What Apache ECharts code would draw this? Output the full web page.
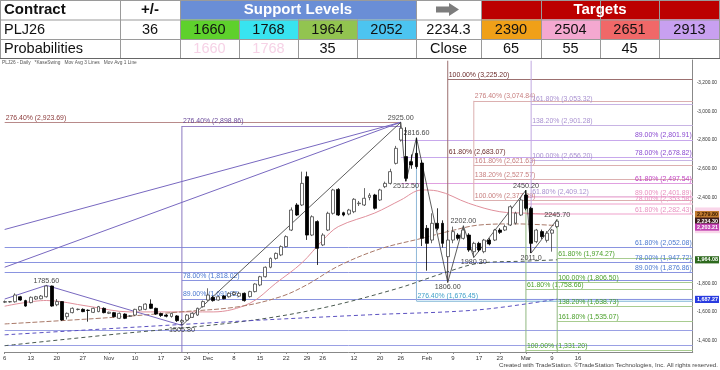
<!DOCTYPE html>
<html><head><meta charset="utf-8">
<script src="https://cdn.jsdelivr.net/npm/echarts@6/dist/echarts.min.js"></script>
<style>html,body{margin:0;padding:0;background:#fff}#c{width:720px;height:370px}</style>
</head><body><div id="c"></div>
<script>
// ---------- DATA ----------
const months = [
  ['Oct',[6,7,8,9,10,13,14,15,16,17,20,21,22,23,24,27,28,29,30,31]],
  ['Nov',[3,4,5,6,7,10,11,12,13,14,17,18,19,20,21,24,25,26,28]],
  ['Dec',[1,2,3,4,5,8,9,10,11,12,15,16,17,18,19,22,23,24,26,29,30,31]],
  ['Jan',[2,5,6,7,8,9,12,13,14,15,16,20,21,22,23,26,27,28,29,30]],
  ['Feb',[2,3,4,5,6,9,10,11,12,13,17,18,19,20,23,24,25,26,27]],
  ['Mar',[2,3,4,5,6,9,10,11,12,13,16,17,18,19,20,23,24,25,26,27,30,31]],
  ['Apr',[1,2,6,7,8,9,10,13,14,15,16]]
];
const categories = [];
months.forEach(m => m[1].forEach(d => categories.push(m[0] + ' ' + d)));
const tickDates = ['Oct 6','Oct 13','Oct 20','Oct 27','Nov 3','Nov 10','Nov 17','Nov 24','Dec 1','Dec 8','Dec 15','Dec 22','Dec 29','Jan 2','Jan 12','Jan 20','Jan 26','Feb 2','Feb 9','Feb 17','Feb 23','Mar 2','Mar 9','Mar 16'];
const tickText  = ['6','13','20','27','Nov','10','17','24','Dec','8','15','22','29','26','12','20','26','Feb','9','17','23','Mar','9','16'];

const opens = [1668,1670,1671,1706,1679,1665,1690,1692,1706,1781,1650,1672,1567,1595,1617,1618,1612,1597,1602,1625,
1590,1595,1555,1585,1570,1578,1613,1618,1655,1625,1588,1578,1568,1572,1530,1543,1562,1578,1637,1683,
1702,1683,1711,1706,1722,1710,1730,1707,1742,1788,1846,1912,1974,1998,2056,2172,2347,2347,2545,2137,
2231,2068,2172,2289,2456,2293,2284,2300,2356,2347,2400,2417,2382,2475,2498,2638,2801,2685,2650,2708,
2640,2184,2102,2219,2219,1986,2102,2137,2114,2137,2021,2079,2021,2102,2102,2172,2172,2207,2220,2277,
2417,2324,2091,2161,2100,2150,2196];
const closes = [1672,1672,1718,1683,1641,1702,1706,1711,1781,1641,1672,1544,1590,1625,1619,1602,1610,1625,1637,1595,
1598,1567,1590,1555,1572,1618,1637,1655,1625,1585,1575,1570,1590,1539,1540,1578,1590,1625,1672,1718,
1679,1706,1692,1730,1735,1730,1679,1742,1795,1846,1912,1974,2009,2056,2126,2312,2277,2498,2137,2265,
2044,2137,2289,2452,2277,2277,2312,2387,2360,2394,2415,2324,2452,2498,2580,2743,2883,2533,2627,2615,
2114,2079,2219,2184,2079,2102,2161,2114,2172,2033,2079,2033,2102,2075,2172,2156,2196,2335,2290,2382,
2324,2079,2172,2126,2150,2172,2234.3];
const lows = [1662,1665,1665,1678,1636,1660,1685,1688,1700,1636,1640,1538,1548,1590,1610,1598,1532,1592,1598,1590,
1585,1562,1550,1550,1565,1572,1608,1612,1620,1580,1565,1562,1560,1530,1505.8,1538,1558,1572,1630,1678,
1672,1678,1688,1700,1712,1705,1672,1700,1736,1780,1840,1905,1965,1990,2050,2165,2270,2340,2103,2130,
1928,2060,2165,2280,2270,2268,2275,2290,2340,2340,2380,2315,2375,2465,2490,2630,2790,2512.5,2600,2600,
2060,1888,2080,2170,2050,1806,2080,2100,2105,2020,1980.3,2020,2010,2065,2095,2145,2165,2200,2210,2270,
2310,2011,2080,2110,2085,2021,2185];
const highs = [1680,1676,1730,1712,1685,1708,1712,1718,1785.6,1784,1690,1675,1596,1632,1624,1625,1618,1630,1642,1632,
1602,1600,1596,1590,1578,1622,1642,1660,1688,1630,1595,1585,1595,1578,1550,1585,1598,1630,1680,1765,
1712,1712,1718,1738,1745,1740,1736,1748,1800,1852,1918,1980,2015,2065,2135,2330,2360,2580,2580,2275,
2240,2150,2300,2460,2465,2300,2320,2395,2375,2465,2430,2425,2460,2510,2600,2760,2925,2890,2700,2816.6,
2660,2207,2289,2324,2240,2172,2196,2150,2202,2150,2090,2090,2110,2115,2180,2185,2210,2345,2300,2400,
2450.2,2335,2180,2175,2165,2180,2245.7];

// moving averages read at sample bars
const maShortIdx = [0,8,16,24,32,40,47,52,57,61,64,71,76,80,83,89,95,100,106];
const maShortVal = [1640,1680,1640,1600,1600,1600,1660,1800,1942,2100,2196,2291,2382,2452,2445,2359,2300,2290,2280];
const maMidIdx = [0,20,34,45,53,58,64,72,80,86,91,98,106];
const maMidVal = [1516,1560,1601,1637,1707,1790,1920,2040,2114,2170,2207,2215,2203];
const maLongIdx = [0,20,45,60,75,85,91,100,106];
const maLongVal = [1364,1440,1530,1620,1760,1881,1940,1955,1964];
const maSlowIdx = [0,45,70,91,106];
const maSlowVal = [1440,1535,1580,1615,1690];

// swing points
const swingIdx = [8,34,76,77,79,85,88,90,100,101,106];
const swingVal = [1785.6,1505.8,2925,2512.5,2816.6,1806,2202,1980.3,2450.2,2011,2245.7];
const swingText = ['1785.60','1505.80','2925.00','2512.50','2816.60','1806.00','2202.00','1980.30','2450.20','2011.0','2245.70'];
const swingSide = ['top','bottom','top','bottom','top','bottom','top','bottom','top','bottom','top'];

// rays to the 2925 high
const rayStartVal = [2176,1912];

// fibonacci groups
const brownVals = [3225.20,2683.07], brownPct = ['100.00%','61.80%'];
const salmonVals = [3074.84,2621.63,2527.57,2377.89], salmonPct = ['276.40%','161.80%','138.20%','100.00%'];
const lavVals = [3053.32,2901.28,2656.20,2409.12], lavPct = ['161.80%','138.20%','100.00%','61.80%'];
const purpleVals = [2801.91,2678.82,2497.54], purplePct = ['89.00%','78.00%','61.80%'];
const pinkVals = [2401.89,2353.58,2282.43], pinkPct = ['89.00%','78.00%','61.80%'];
const blueVals = [2052.08,1947.72,1876.86], bluePct = ['61.80%','78.00%','89.00%'];
const greenAVals = [1974.27,1806.50,1638.73,1535.07], greenAPct = ['61.80%','100.00%','138.20%','161.80%'];
const greenBVals = [1758.66,1331.20], greenBPct = ['61.80%','100.00%'];
const leftVals = [2898.86,1818.02,1691.92], leftPct = ['276.40%','78.00%','89.00%'];
const topLeftVal = 2923.69, tealVal = 1676.45;
const plainLineVals = [1469,1364];

// right axis tags
const tagVals = [2279.80,2234.30,2203.21,1964.08,1687.27];
const axisLabels = [3200,3000,2800,2600,2400,1800,1600,1400];

// header table
const tblRow1 = ['PLJ26','36','1660','1768','1964','2052','2234.3','2390','2504','2651','2913'];
const tblRow2 = ['Probabilities','','1660','1768','35','','Close','65','55','45',''];

// ---------- CHART ----------
const FONT = 'Liberation Sans, Arial, sans-serif';
const nCat = categories.length;
const last = nCat - 1;
const fmt = v => v.toLocaleString('en-US',{minimumFractionDigits:2,maximumFractionDigits:2});
const lbl = (p,v) => p + ' (' + fmt(v) + ')';

function fibLines(vals, pcts, start, end, lineColor, textColor, side, lw) {
  return vals.map((v,k) => [
    {coord:[start, v], lineStyle:{color:lineColor, width:lw||1, type:'solid'},
     label:{show:!!pcts, position: side==='end'?'insideEndTop':'insideStartTop', formatter: pcts?lbl(pcts[k], v):'',
            color:textColor, fontSize:6.9, fontFamily:FONT, distance:1}},
    {coord:[end, v]}
  ]);
}
const fibData = [].concat(
  fibLines([topLeftVal],['276.40%'],0,76,'#b88a8a','#8b3a3a','start'),
  fibLines([leftVals[0]],[leftPct[0]],34,76,'#9a84c8','#6a4a9a','start'),
  fibLines(leftVals.slice(1),leftPct.slice(1),34,last,'#8a94e0','#4a78d0','start'),
  fibLines(brownVals,brownPct,85,last,'#9c7070','#6b2a2a','start'),
  fibLines(salmonVals,salmonPct,90,last,'#dcb0b0','#c88080','start'),
  fibLines(lavVals,lavPct,101,last,'#c8b4e4','#a890d0','start'),
  fibLines(purpleVals.slice(0,2),purplePct.slice(0,2),76,last,'#c8a8ec','#8a4ad0','end'),
  fibLines(purpleVals.slice(2),purplePct.slice(2),76,last,'#e0a0e0','#c040c0','end'),
  fibLines(pinkVals,pinkPct,100,last,'#f4c0dc','#e890c0','end',1.5),
  fibLines(blueVals,bluePct,0,last,'#8a94e0','#4a78d0','end'),
  fibLines(plainLineVals,null,0,last,'#9aa0e4','#4a78d0','end'),
  fibLines(greenAVals,greenAPct,106,last,'#a8cc90','#4aa02a','start'),
  fibLines(greenBVals,greenBPct,100,last,'#a8cc90','#4aa02a','start'),
  fibLines([tealVal],['276.40%'],79,last,'#a0c8e0','#40a0c8','start')
);

const pairs = (idx, val) => idx.map((i,k) => [i, val[k]]);
const seg = (data, color, width, type, smooth) => ({type:'line', data, symbol:'none', silent:true, animation:false,
  smooth: smooth||false, lineStyle:{color, width:width||1, type:type||'solid'}, z:3});

// verticals
const verticals = [
  [34, 2898.86, 1320, '#8a78c0'],
  [85, 3355, 1806, '#9c7070'],
  [90, 3074.84, 2377.89, '#dcb0b0'],
  [101, 3355, 2011, '#c0a8e0'],
  [100, 2450.2, 1320, '#90b880'],
  [106, 2245.7, 1320, '#90b880'],
  [79, 2816.6, 1676.45, '#90b8d8']
];

const series = [];
series.push({
  type:'candlestick', animation:false, barWidth:3.4, z:5,
  data: opens.map((o,i) => [o, closes[i], lows[i], highs[i]]),
  itemStyle:{color:'#ffffff', color0:'#000000', borderColor:'#444', borderColor0:'#000', borderWidth:0.8},
  markLine:{symbol:'none', silent:true, animation:false, data: fibData, z:1},
  markArea:{silent:true, animation:false, itemStyle:{color:'rgba(150,205,235,0.35)'},
    data:[[{coord:[79,tealVal]},{coord:[last,leftVals[2]]}]]}
});
verticals.forEach(v => series.push(seg([[v[0],v[1]],[v[0],v[2]]], v[3], 1)));
series.push(seg(pairs(maShortIdx,maShortVal),'#e0909c',1,'solid',0.35));
series.push(seg(pairs(maMidIdx,maMidVal),'#a87868',1,[5,2],0.35));
series.push(seg(pairs(maLongIdx,maLongVal),'#4a5a50',1,[4,3],0.35));
series.push(seg(pairs(maSlowIdx,maSlowVal),'#5a50c0',1,[4,3],0.35));
// rays
rayStartVal.forEach(v => series.push(seg([[0,v],[76,2925]],'#7868c0',1)));
series.push(seg([[0,1690],[8,1785.6]],'#7868c0',1));
// zigzag
series.push(seg([[8,1785.6],[34,1505.8]],'#7868c0',1));
series.push(seg(pairs(swingIdx.slice(1),swingVal.slice(1)),'#333',0.8));
// swing labels
series.push({type:'scatter', symbolSize:0, animation:false, silent:true, z:10,
  data: swingIdx.map((i,k) => ({value:[i, swingVal[k]],
    label:{show:true, position:swingSide[k], distance:1, formatter:swingText[k], color:'#111', fontSize:7.2, fontFamily:FONT}}))});

// header graphics
const colX = [0,120,180,239,298,357,416,481,541,600,659,720];
const rowY = [0,19.5,39,58];
const row1Bg = ['#fff','#fff','#5ed12c','#38e4f0','#92c450','#4cc4f0','#fff','#f0a018','#f4a8d0','#f06868','#c8a0f0'];
const g = [];
const cx = c => (colX[c]+colX[c+1])/2;
function txt(s, x, y, size, color, bold, align) {
  g.push({type:'text', silent:true, z:50, style:{text:s, x, y, fill:color, font:(bold?'bold ':'')+size+'px '+FONT,
    textAlign:align||'center', align:align||'center', textVerticalAlign:'middle', verticalAlign:'middle'}});
}
function rect(x,y,w,h,fill){ g.push({type:'rect', silent:true, z:40, shape:{x,y,width:w,height:h}, style:{fill}}); }
function hl(x1,y1,x2,y2,c){ g.push({type:'line', silent:true, z:45, shape:{x1,y1,x2,y2}, style:{stroke:c, lineWidth:1}}); }
// row 0
rect(180,0,236,19.5,'#6a8ed6');
rect(481,0,239,19.5,'#bc0000');
txt('Contract',4,10,15,'#111',true,'left');
txt('+/-',150,10,15,'#111',true);
txt('Support Levels',298,10,15,'#fff',true);
txt('Targets',600,10,15,'#fff',true);
g.push({type:'polygon', silent:true, z:50, shape:{points:[[436,6.5],[449,6.5],[449,3],[459,9.5],[449,16],[449,12.5],[436,12.5]]}, style:{fill:'#7d7d7d'}});
// row 1
for (let c=0;c<11;c++){
  if (row1Bg[c]!=='#fff') rect(colX[c],19.5,colX[c+1]-colX[c],19.5,row1Bg[c]);
  if (c===0) txt(tblRow1[c],4,29.5,14.5,'#111',false,'left');
  else txt(tblRow1[c],cx(c),29.5,14.5,'#111',false);
}
for (let c=0;c<11;c++){
  if (!tblRow2[c]) continue;
  const ghost = (c===2||c===3);
  if (c===0) txt(tblRow2[c],4,48.5,14.5,'#111',false,'left');
  else txt(tblRow2[c],cx(c),48.5,14.5,ghost?'#f6d2e6':'#111',false);
}
// borders
rowY.forEach(y => hl(0,y+0.5,720,y+0.5,'#9a9a9a'));
colX.forEach((x,c) => { if (c>0 && c<11) { hl(x+0.5, x>180&&x<416?19.5:0, x+0.5, 58, '#9a9a9a'); }});
hl(0.5,0,0.5,58,'#9a9a9a'); hl(719.5,0,719.5,58,'#9a9a9a');
hl(0,58.5,720,58.5,'#666');
// chart title & copyright
txt('PLJ26 - Daily   *KaseSwing   Mov Avg 3 Lines   Mov Avg 1 Line',2,62.5,4.8,'#555',false,'left');
txt('Created with TradeStation. \u00A9TradeStation Technologies, Inc. All rights reserved.',718,365,6.2,'#444',false,'right');

const chart = echarts.init(document.getElementById('c'), null, {renderer:'canvas'});
chart.setOption({
  animation:false,
  backgroundColor:'#fff',
  grid:{left:2, right:26, top:60, bottom:18},
  xAxis:{type:'category', data:categories, boundaryGap:false,
    axisLine:{lineStyle:{color:'#888'}},
    axisTick:{show:true, length:2, interval:(i,v)=>tickDates.includes(v), lineStyle:{color:'#888'}},
    axisLabel:{interval:(i,v)=>tickDates.includes(v), formatter:(v)=>tickText[tickDates.indexOf(v)]||'',
      fontSize:6, color:'#333', fontFamily:FONT, margin:3},
    splitLine:{show:false}},
  yAxis:{type:'value', position:'right', min:1320, max:3360, interval:20, scale:false,
    axisLine:{show:true, lineStyle:{color:'#888'}}, axisTick:{show:false},
    axisLabel:{fontSize:4.8, color:'#333', fontFamily:FONT, margin:4,
      formatter:v => axisLabels.includes(v) ? '-' + fmt(v) : ''},
    splitLine:{show:false}},
  graphic:{elements:g},
  series
});

// right-axis price tags placed through the axis scale
const tagColors = ['#c07a30','#3a1a1a','#c040b0','#2e6a1e','#2a3ce0'];
const tagText = ['#3a1a00','#fff','#fff','#fff','#fff'];
const tagShift = [0,0,1.5,0,0];
const tagEls = [];
const bandTop = chart.convertToPixel({yAxisIndex:0}, 2330);
const bandBot = chart.convertToPixel({yAxisIndex:0}, 2150);
tagEls.push({type:'rect', silent:true, z:30, shape:{x:695,y:bandTop,width:25,height:bandBot-bandTop}, style:{fill:'#f9d6ea'}});
tagVals.forEach((v,k) => {
  const y = chart.convertToPixel({yAxisIndex:0}, v) + tagShift[k];
  tagEls.push({type:'rect', silent:true, z:31, shape:{x:695,y:y-3.6,width:24,height:7.2}, style:{fill:tagColors[k]}});
  tagEls.push({type:'text', silent:true, z:32, style:{text:fmt(v), x:707.5, y:y, fill:tagText[k],
    font:'bold 5.4px '+FONT, textAlign:'center', align:'center', textVerticalAlign:'middle', verticalAlign:'middle'}});
});
chart.setOption({graphic:{elements:g.concat(tagEls)}});
</script></body></html>
